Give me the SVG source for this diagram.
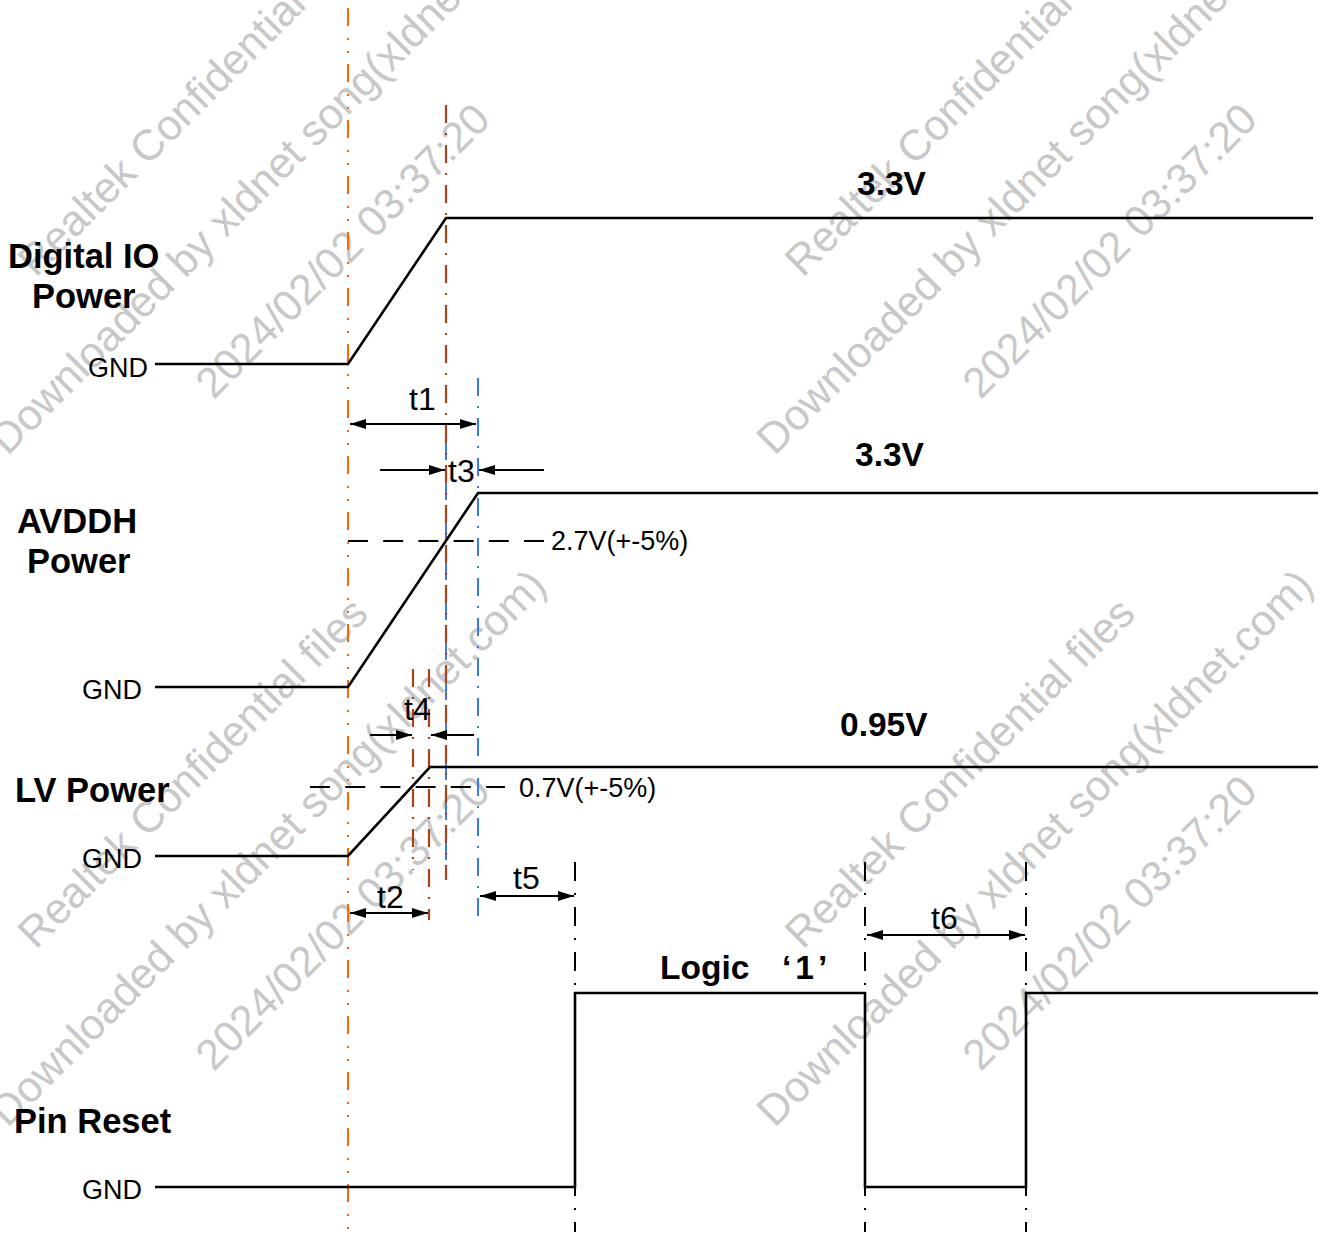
<svg xmlns="http://www.w3.org/2000/svg" width="1325" height="1240" viewBox="0 0 1325 1240">
<style>
.wm{font-family:"Liberation Sans",Arial,sans-serif;font-size:43px;fill:#c8c8c8;text-anchor:middle}
.lbl{font-family:"Liberation Sans",Arial,sans-serif;font-size:34.5px;font-weight:bold;fill:#000}
.val{font-family:"Liberation Sans",Arial,sans-serif;font-size:33.5px;font-weight:bold;fill:#000}
.gnd{font-family:"Liberation Sans",Arial,sans-serif;font-size:27px;fill:#000}
.tl{font-family:"Liberation Sans",Arial,sans-serif;font-size:32px;fill:#000}
.sig{fill:none;stroke:#000;stroke-width:2.6;stroke-linejoin:miter}
.thr{fill:none;stroke:#000;stroke-width:2;stroke-dasharray:20 15.2}
.dim{fill:none;stroke:#000;stroke-width:2}
.vor{stroke:#ff6600;stroke-width:2;stroke-dasharray:18 12 2 11 2 11}
.vbr{stroke:#a8441a;stroke-width:2.2;stroke-dasharray:18 10 2 10}
.vbl{stroke:#3a78ff;stroke-width:2;stroke-dasharray:18 10 2 10}
.vbk{stroke:#000;stroke-width:2;stroke-dasharray:19 12 2 12}
</style>
<defs>
<marker id="ah" markerUnits="userSpaceOnUse" markerWidth="16" markerHeight="10" refX="16" refY="5" orient="auto-start-reverse">
<path d="M0,0 L16,5 L0,10 z" fill="#000"/>
</marker>
</defs>
<rect width="1325" height="1240" fill="#fff"/>
<g id="watermarks">
<g transform="translate(0,0)">
<text class="wm" transform="translate(203,111) rotate(-45)">Realtek Confidential files</text>
<text class="wm" transform="translate(278,186) rotate(-45)">Downloaded by xldnet song(xldnet.com)</text>
<text class="wm" transform="translate(353,261) rotate(-45)">2024/02/02 03:37:20</text>
</g>
<g transform="translate(767,0)">
<text class="wm" transform="translate(203,111) rotate(-45)">Realtek Confidential files</text>
<text class="wm" transform="translate(278,186) rotate(-45)">Downloaded by xldnet song(xldnet.com)</text>
<text class="wm" transform="translate(353,261) rotate(-45)">2024/02/02 03:37:20</text>
</g>
<g transform="translate(0,672)">
<text class="wm" transform="translate(203,111) rotate(-45)">Realtek Confidential files</text>
<text class="wm" transform="translate(278,186) rotate(-45)">Downloaded by xldnet song(xldnet.com)</text>
<text class="wm" transform="translate(353,261) rotate(-45)">2024/02/02 03:37:20</text>
</g>
<g transform="translate(767,672)">
<text class="wm" transform="translate(203,111) rotate(-45)">Realtek Confidential files</text>
<text class="wm" transform="translate(278,186) rotate(-45)">Downloaded by xldnet song(xldnet.com)</text>
<text class="wm" transform="translate(353,261) rotate(-45)">2024/02/02 03:37:20</text>
</g>
</g>
<g id="guides">
<line class="vor" x1="348" y1="8" x2="348" y2="1240"/>
<line class="vbl" x1="446" y1="442" x2="446" y2="870"/>
<line class="vbr" x1="446" y1="105" x2="446" y2="880"/>
<line class="vbl" x1="478" y1="378" x2="478" y2="922"/>
<line class="vbr" x1="413" y1="669" x2="413" y2="870"/>
<line class="vbr" x1="429" y1="669" x2="429" y2="920"/>
<line class="vbk" x1="575" y1="862" x2="575" y2="1232"/>
<line class="vbk" x1="865" y1="862" x2="865" y2="1232"/>
<line class="vbk" x1="1026" y1="862" x2="1026" y2="1232"/>
</g>
<g id="digital-io">
<text class="lbl" x="8" y="268">Digital IO</text>
<text class="lbl" x="32" y="308">Power</text>
<text class="gnd" x="88" y="377">GND</text>
<path class="sig" d="M155,364 H348 L446,218 H1313"/>
<text class="val" x="857" y="195">3.3V</text>
</g>
<g id="avddh">
<text class="lbl" x="17" y="533">AVDDH</text>
<text class="lbl" x="27" y="573">Power</text>
<text class="gnd" x="82" y="699">GND</text>
<path class="sig" d="M155,687 H348 L478,493 H1318"/>
<text class="val" x="855" y="466">3.3V</text>
<line class="thr" x1="348" y1="541" x2="545" y2="541"/>
<text class="gnd" x="551" y="550">2.7V(+-5%)</text>
</g>
<g id="lv">
<text class="lbl" x="15" y="802">LV Power</text>
<text class="gnd" x="82" y="868">GND</text>
<path class="sig" d="M155,856 H348 L430,767 H1318"/>
<text class="val" x="840" y="736">0.95V</text>
<line class="thr" x1="310" y1="787" x2="505" y2="787"/>
<text class="gnd" x="519" y="797">0.7V(+-5%)</text>
</g>
<g id="pin-reset">
<text class="lbl" x="14" y="1133">Pin Reset</text>
<text class="gnd" x="82" y="1199">GND</text>
<path class="sig" d="M155,1187 H575 V993 H865 V1187 H1026 V993 H1318"/>
<text class="val" x="660" y="979">Logic <tspan x="782" letter-spacing="4">‘1’</tspan></text>
</g>
<g id="connectors">
<line class="dim" x1="350" y1="424" x2="476" y2="424" marker-start="url(#ah)" marker-end="url(#ah)"/>
<text class="tl" x="409" y="410">t1</text>
<line class="dim" x1="380" y1="470" x2="445" y2="470" marker-end="url(#ah)"/>
<line class="dim" x1="544" y1="470" x2="479" y2="470" marker-end="url(#ah)"/>
<text class="tl" x="448" y="482">t3</text>
<line class="dim" x1="370" y1="735" x2="412" y2="735" marker-end="url(#ah)"/>
<line class="dim" x1="474" y1="735" x2="431" y2="735" marker-end="url(#ah)"/>
<text class="tl" x="404" y="720">t4</text>
<line class="dim" x1="350" y1="913" x2="428" y2="913" marker-start="url(#ah)" marker-end="url(#ah)"/>
<text class="tl" x="377" y="908">t2</text>
<line class="dim" x1="480" y1="896" x2="574" y2="896" marker-start="url(#ah)" marker-end="url(#ah)"/>
<text class="tl" x="513" y="889">t5</text>
<line class="dim" x1="867" y1="935" x2="1025" y2="935" marker-start="url(#ah)" marker-end="url(#ah)"/>
<text class="tl" x="931" y="929">t6</text>
</g>
</svg>
